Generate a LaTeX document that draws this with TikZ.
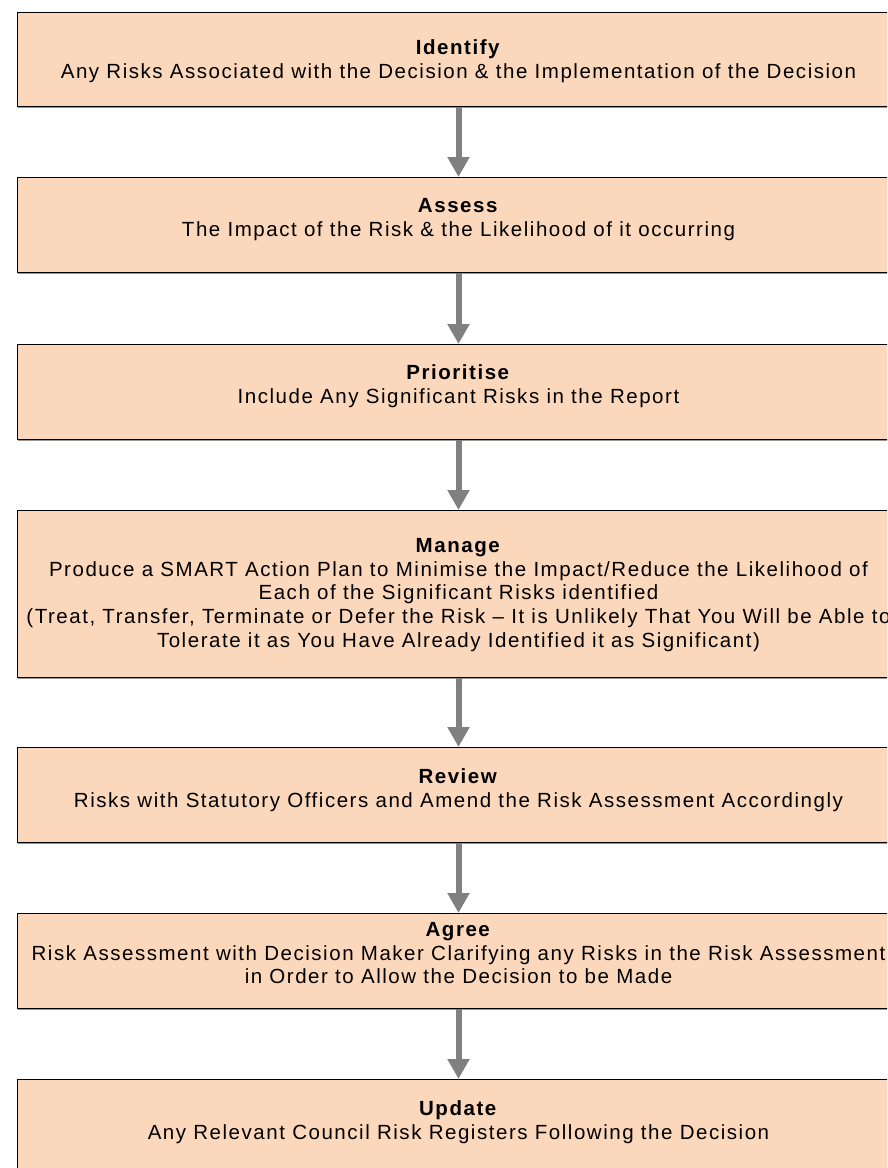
\documentclass[tikz,border=0pt]{standalone}
\usepackage{fontspec}
\setmainfont[LetterSpace=7.5]{Liberation Sans}
\usetikzlibrary{arrows.meta}
\definecolor{peach}{RGB}{251,215,187}
\definecolor{arrowgray}{RGB}{128,128,128}
\definecolor{shadowgray}{RGB}{150,150,150}
\begin{document}
\begin{tikzpicture}[x=1pt,y=-1pt,
  stepbox/.style={draw=black, line width=1.3pt, fill=peach, rectangle,
    anchor=north west, minimum width=940pt, inner sep=0pt,
    preaction={fill=shadowgray, transform canvas={shift={(0.8pt,-1.6pt)}}}},
  steptext/.style={anchor=north, align=center, inner sep=0pt,
    font=\fontsize{20.5}{23.7}\selectfont},
  flow/.style={draw=arrowgray, line width=6pt, -{Triangle[width=21pt,length=20pt]}}
]
\useasboundingbox (0,0) rectangle (887,1168);
\clip (0,0) rectangle (887,1168);
\node[stepbox, minimum height=94pt] (b1) at (16.5,12) {};
\node[stepbox, minimum height=95pt] (b2) at (16.5,177) {};
\node[stepbox, minimum height=95pt] (b3) at (16.5,344) {};
\node[stepbox, minimum height=167pt] (b4) at (16.5,510) {};
\node[stepbox, minimum height=95pt] (b5) at (16.5,747) {};
\node[stepbox, minimum height=95pt] (b6) at (16.5,913) {};
\node[stepbox, minimum height=95pt] (b7) at (16.5,1079) {};

\node[steptext] (t1) at (458.5,37.75) {\strut\textbf{Identify}\\Any Risks Associated with the Decision \& the Implementation of the Decision};
\node[steptext] (t2) at (458.5,195.75) {\strut\textbf{Assess}\\The Impact of the Risk \& the Likelihood of it occurring};
\node[steptext] (t3) at (458.5,362.75) {\strut\textbf{Prioritise}\\Include Any Significant Risks in the Report};
\node[steptext] (t4) at (458.5,535.75) {\strut\textbf{Manage}\\Produce a SMART Action Plan to Minimise the Impact/Reduce the Likelihood of\\Each of the Significant Risks identified\\(Treat, Transfer, Terminate or Defer the Risk – It is Unlikely That You Will be Able to\\Tolerate it as You Have Already Identified it as Significant)};
\node[steptext] (t5) at (458.5,766.75) {\strut\textbf{Review}\\Risks with Statutory Officers and Amend the Risk Assessment Accordingly};
\node[steptext] (t6) at (458.5,919.75) {\strut\textbf{Agree}\\Risk Assessment with Decision Maker Clarifying any Risks in the Risk Assessment\\in Order to Allow the Decision to be Made};
\node[steptext] (t7) at (458.5,1098.75) {\strut\textbf{Update}\\Any Relevant Council Risk Registers Following the Decision};

\draw[flow] (b1.south -| t1.north) -- (b2.north -| t1.north);
\draw[flow] (b2.south -| t2.north) -- (b3.north -| t2.north);
\draw[flow] (b3.south -| t3.north) -- (b4.north -| t3.north);
\draw[flow] (b4.south -| t4.north) -- (b5.north -| t4.north);
\draw[flow] (b5.south -| t5.north) -- (b6.north -| t5.north);
\draw[flow] (b6.south -| t6.north) -- (b7.north -| t6.north);
\end{tikzpicture}
\end{document}
